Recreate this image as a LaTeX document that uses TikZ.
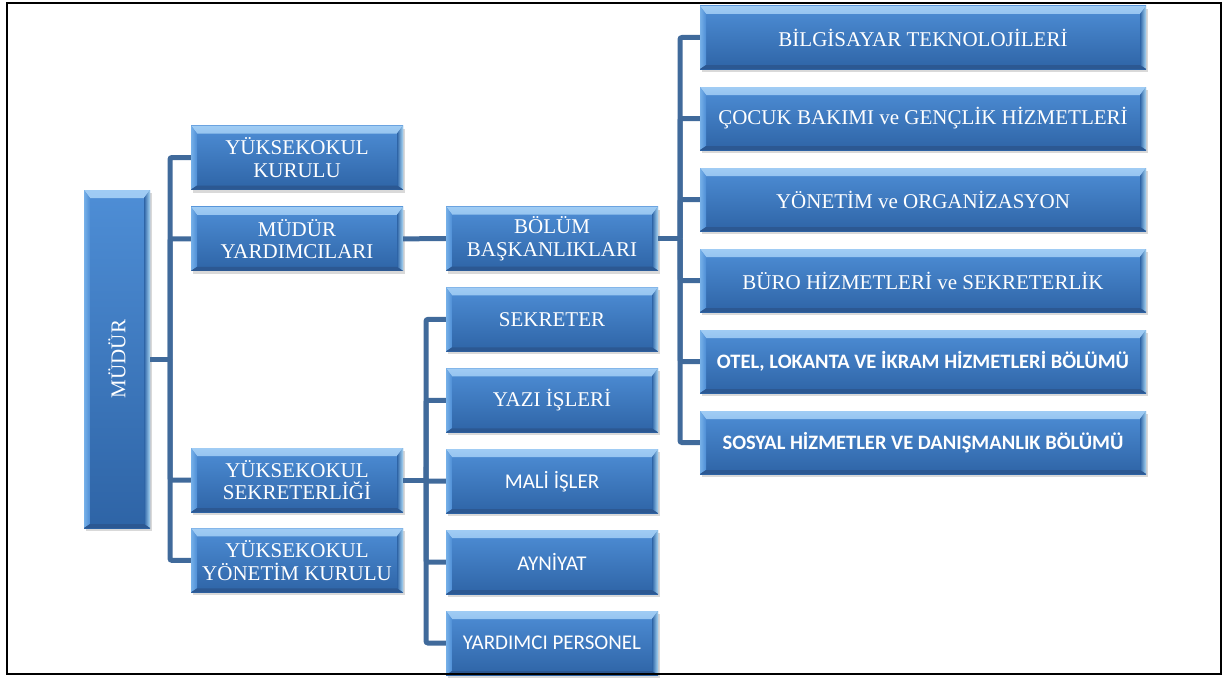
\documentclass[tikz,border=0pt]{standalone}
\usepackage{fontspec}
\setmainfont{Liberation Serif}
\newfontfamily\calibri{Carlito}
\usetikzlibrary{positioning,shadows}
\definecolor{facetop}{RGB}{78,142,214}
\definecolor{facebot}{RGB}{46,100,166}
\definecolor{bevtop}{RGB}{160,204,244}
\definecolor{bevleft}{RGB}{118,176,232}
\definecolor{bevright}{RGB}{168,214,244}
\definecolor{bevdark}{RGB}{44,88,146}
\definecolor{linkblue}{RGB}{64,106,155}
\tikzset{
  unit/.style={rectangle, minimum width=212pt, minimum height=64pt, inner sep=0pt,
    align=center, text=white, font=\fontsize{21}{22.5}\selectfont,
    top color=facetop, bottom color=facebot,
    drop shadow={shadow xshift=2pt, shadow yshift=-3pt, opacity=.3},
    path picture={
      \shade[top color=bevtop, bottom color=facetop]
        (path picture bounding box.north west) -- (path picture bounding box.north east)
        -- ([shift={(-6pt,-8pt)}]path picture bounding box.north east)
        -- ([shift={(6pt,-8pt)}]path picture bounding box.north west) -- cycle;
      \shade[left color=bevleft, right color=facetop]
        (path picture bounding box.north west) -- ([shift={(6pt,-8pt)}]path picture bounding box.north west)
        -- ([shift={(6pt,4pt)}]path picture bounding box.south west)
        -- (path picture bounding box.south west) -- cycle;
      \shade[left color=facebot, right color=bevright]
        (path picture bounding box.north east) -- ([shift={(-6pt,-8pt)}]path picture bounding box.north east)
        -- ([shift={(-6pt,4pt)}]path picture bounding box.south east)
        -- (path picture bounding box.south east) -- cycle;
      \fill[bevdark]
        (path picture bounding box.south west) -- ([shift={(6pt,4pt)}]path picture bounding box.south west)
        -- ([shift={(-6pt,4pt)}]path picture bounding box.south east)
        -- (path picture bounding box.south east) -- cycle;
    }},
  wide/.style={unit, minimum width=446pt, minimum height=63pt},
  sans/.style={font=\calibri\fontsize{21}{23}\selectfont},
  sansbold/.style={font=\calibri\bfseries\fontsize{20.5}{22}\selectfont},
  link/.style={draw=linkblue, line width=5pt, rounded corners=2pt}
}
\begin{document}
\begin{tikzpicture}[x=1pt,y=-1pt]
  \useasboundingbox (0,0) rectangle (1225,677);
  \node[unit, minimum width=66pt, minimum height=338pt] (mudur) at (117,359) {\rotatebox{90}{MÜDÜR}};
  \node[unit] (ykk) at (297,157.5) {YÜKSEKOKUL\\KURULU};
  \node[unit, below=17pt of ykk] (my) {MÜDÜR\\YARDIMCILARI};
  \node[unit] (ys) at (297,480) {YÜKSEKOKUL\\SEKRETERLİĞİ};
  \node[unit, below=16pt of ys] (yyk) {YÜKSEKOKUL\\YÖNETİM KURULU};
  \node[unit] (bolum) at (552,238.5) {BÖLÜM\\BAŞKANLIKLARI};
  \node[unit, below=16.5pt of bolum] (sekreter) {SEKRETER};
  \node[unit, below=16.5pt of sekreter] (yazi) {YAZI İŞLERİ};
  \node[unit, sans, below=16.5pt of yazi] (mali) {MALİ İŞLER};
  \node[unit, sans, below=16.5pt of mali] (ayniyat) {AYNİYAT};
  \node[unit, sans, below=16.5pt of ayniyat] (personel) {YARDIMCI PERSONEL};
  \node[wide] (bilgisayar) at (923,37.5) {BİLGİSAYAR TEKNOLOJİLERİ};
  \node[wide, below=17.6pt of bilgisayar] (cocuk) {ÇOCUK BAKIMI ve GENÇLİK HİZMETLERİ};
  \node[wide, below=17.6pt of cocuk] (yonetim) {YÖNETİM ve ORGANİZASYON};
  \node[wide, below=17.6pt of yonetim] (buro) {BÜRO HİZMETLERİ ve SEKRETERLİK};
  \node[wide, sansbold, below=17.6pt of buro] (otel) {OTEL, LOKANTA VE İKRAM HİZMETLERİ BÖLÜMÜ};
  \node[wide, sansbold, below=17.6pt of otel] (sosyal) {SOSYAL HİZMETLER VE DANIŞMANLIK BÖLÜMÜ};
  \coordinate (lbus) at (170,359);
  \coordinate (mbus) at (ys.east -| 426,0);
  \coordinate (rbus) at (bolum.east -| 680,0);
  \draw[link] (mudur.east) -- (lbus);
  \foreach \n in {ykk,my,ys,yyk} \draw[link] (lbus) |- (\n.west);
  \draw[link] (my.east) -- (bolum.west);
  \draw[link] (bolum.east) -- (rbus);
  \foreach \n in {bilgisayar,cocuk,yonetim,buro,otel,sosyal} \draw[link] (rbus) |- (\n.west);
  \draw[link] (ys.east) -- (mbus);
  \foreach \n in {sekreter,yazi,mali,ayniyat,personel} \draw[link] (mbus) |- (\n.west);
  \draw[line width=1.6pt] (7,3) rectangle (1221,674);
\end{tikzpicture}
\end{document}
